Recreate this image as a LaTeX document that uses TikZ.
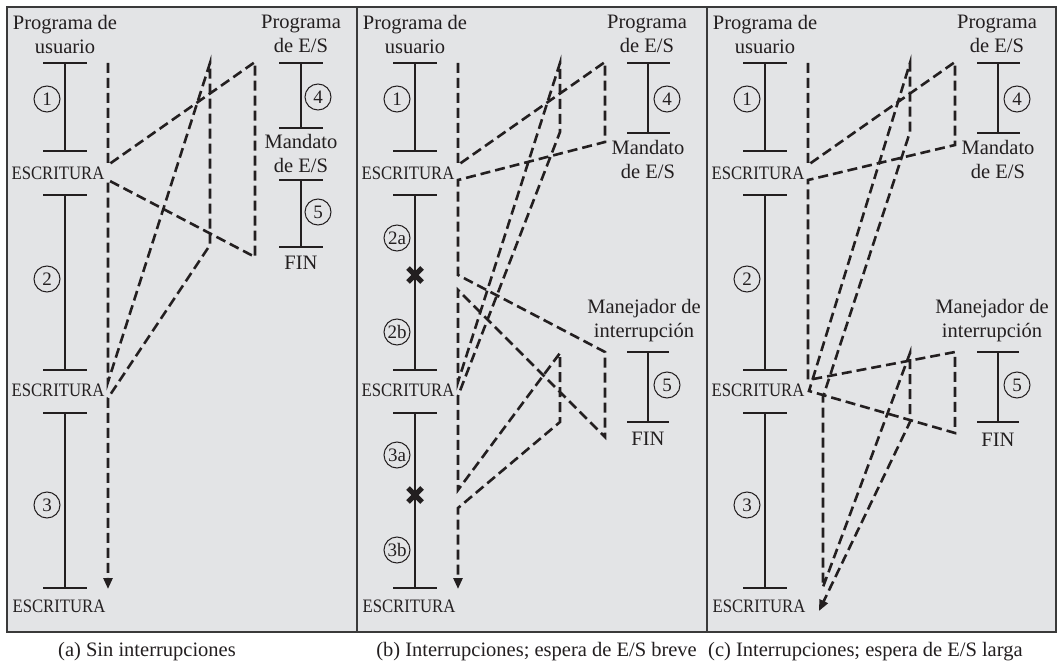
\documentclass[tikz,border=0pt]{standalone}
\usepackage{fontspec}
\setmainfont{Liberation Serif}
\usetikzlibrary{arrows.meta}
\definecolor{ink}{HTML}{231F20}
\definecolor{panelbg}{HTML}{E3E4E6}
\definecolor{frame}{HTML}{3A3A3A}
\tikzset{
  bar/.style={draw=ink, line width=2.9pt},
  flow/.style={draw=ink, line width=2.6pt, dash pattern=on 10pt off 5pt},
  flowarrow/.style={flow, -{Triangle[length=11pt,width=9pt]}},
  lbl/.style={font=\fontsize{20.5}{24}\selectfont, align=center, inner sep=0pt, text=ink},
  wr/.style={font=\fontsize{19}{22}\selectfont, inner sep=0pt, text=ink},
  num/.style={circle, draw=ink, line width=1pt, minimum size=26pt, inner sep=0pt, font=\fontsize{19}{19}\selectfont, text=ink},
  captext/.style={font=\fontsize{20.5}{24}\selectfont, inner sep=0pt, text=ink},
  xmark/.style={draw=ink, line width=5pt}
}
\newcommand{\userbars}{%
  \draw[bar] (43,63) -- (87,63) (65,63) -- (65,151) (43,151) -- (87,151);
  \draw[bar] (43,195) -- (87,195) (65,195) -- (65,370) (43,370) -- (87,370);
  \draw[bar] (43,413) -- (87,413) (65,413) -- (65,588) (43,588) -- (87,588);
  \node[lbl] (pu) at (65,34) {Programa de\\usuario};
  \node[wr] (w1) at (58,173) {\scalebox{0.88}[1]{ESCRITURA}};
  \node[wr] (w2) at (58,390) {\scalebox{0.88}[1]{ESCRITURA}};
  \node[wr] (w3) at (59,606) {\scalebox{0.88}[1]{ESCRITURA}};
  \node[num] (n1) at (47,99) {1};
}
\begin{document}
\begin{tikzpicture}[x=1pt,y=-1pt]
\useasboundingbox (0,0) rectangle (1058,666);
\fill[white] (0,0) rectangle (1058,666);
\fill[panelbg] (7,7) rectangle (1056,632);
\draw[frame, line width=1.4pt] (7,7) rectangle (1056,632);
\draw[frame, line width=1.4pt] (357,7) -- (357,632) (707,7) -- (707,632);

% ---------------- panel a ----------------
\begin{scope}
  \userbars
  \node[num] (n2) at (47,279) {2};
  \node[num] (n3) at (47,505) {3};
  \node[lbl] (pes) at (301,34) {Programa\\de E/S};
  \draw[bar] (279,63) -- (323,63) (301,63) -- (301,128) (279,128) -- (323,128);
  \node[num] (n4) at (318,97) {4};
  \node[lbl] (man) at (301,153) {Mandato\\de E/S};
  \draw[bar] (279,180) -- (323,180) (301,180) -- (301,247) (279,247) -- (323,247);
  \node[num] (n5) at (318,212) {5};
  \node[lbl] (fin) at (301,263) {FIN};
  \coordinate (a1) at (108,63);  \coordinate (a2) at (108,165);
  \coordinate (a3) at (255,62);  \coordinate (a4) at (255,257);
  \coordinate (a5) at (108,180); \coordinate (a6) at (108,382);
  \coordinate (a7) at (210,63);  \coordinate (a8) at (210,245);
  \coordinate (a9) at (108,398); \coordinate (a10) at (108,589);
  \draw[flowarrow] (a1) -- (a2) -- (a3) -- (a4) -- (a5) -- (a6) -- (a7) -- (a8) -- (a9) -- (a10);
  \node[captext] (capa) at (147,652) {(a) Sin interrupciones};
\end{scope}

% ---------------- panel b ----------------
\begin{scope}[xshift=350pt]
  \userbars
  \node[num] (n2a) at (47,238) {2a};
  \node[num] (n2b) at (47,332) {2b};
  \node[num] (n3a) at (47,455) {3a};
  \node[num] (n3b) at (47,550) {3b};
  \draw[xmark] (58,268) -- (72,282) (58,282) -- (72,268);
  \draw[xmark] (58,488) -- (72,502) (58,502) -- (72,488);
  \node[lbl] (pes) at (297,34) {Programa\\de E/S};
  \draw[bar] (277,63) -- (320,63) (298,63) -- (298,133) (277,133) -- (320,133);
  \node[num] (n4) at (317,99) {4};
  \node[lbl] (man) at (298,159) {Mandato\\de E/S};
  \node[lbl] (mi) at (294,321) {Manejador de\\interrupción};
  \draw[bar] (277,352) -- (319,352) (298,352) -- (298,422) (277,422) -- (319,422);
  \node[num] (n5) at (317,385) {5};
  \node[lbl] (fin) at (298,439) {FIN};
  \coordinate (b1) at (108,63);   \coordinate (b2) at (108,165);
  \coordinate (b3) at (255,62);   \coordinate (b4) at (255,142);
  \coordinate (b5) at (108,180);  \coordinate (b6) at (108,275);
  \coordinate (b7) at (255,352);  \coordinate (b8) at (255,437);
  \coordinate (b9) at (108,290);  \coordinate (b10) at (108,382);
  \coordinate (b11) at (210,63);  \coordinate (b12) at (210,132);
  \coordinate (b13) at (108,396); \coordinate (b14) at (108,490);
  \coordinate (b15) at (210,353); \coordinate (b16) at (210,422);
  \coordinate (b17) at (108,508); \coordinate (b18) at (108,589);
  \draw[flowarrow] (b1) -- (b2) -- (b3) -- (b4) -- (b5) -- (b6) -- (b7) -- (b8) -- (b9) -- (b10) -- (b11) -- (b12) -- (b13) -- (b14) -- (b15) -- (b16) -- (b17) -- (b18);
  \node[captext, anchor=east] (capb) at (347,652) {(b) Interrupciones; espera de E/S breve};
\end{scope}

% ---------------- panel c ----------------
\begin{scope}[xshift=700pt]
  \userbars
  \node[num] (n2) at (47,279) {2};
  \node[num] (n3) at (47,505) {3};
  \node[lbl] (pes) at (297,34) {Programa\\de E/S};
  \draw[bar] (277,63) -- (320,63) (298,63) -- (298,133) (277,133) -- (320,133);
  \node[num] (n4) at (317,99) {4};
  \node[lbl] (man) at (298,159) {Mandato\\de E/S};
  \node[lbl] (mi) at (292,321) {Manejador de\\interrupción};
  \draw[bar] (277,352) -- (319,352) (298,352) -- (298,422) (277,422) -- (319,422);
  \node[num] (n5) at (317,385) {5};
  \node[lbl] (fin) at (298,440) {FIN};
  \coordinate (c1) at (108,63);   \coordinate (c2) at (108,165);
  \coordinate (c3) at (255,62);   \coordinate (c4) at (255,145);
  \coordinate (c5) at (108,180);  \coordinate (c6) at (108,380);
  \coordinate (c7) at (255,352);  \coordinate (c8) at (255,433);
  \coordinate (c9) at (109,391);  \coordinate (c10) at (210,63);
  \coordinate (c11) at (210,132); \coordinate (c12) at (123,397);
  \coordinate (c13) at (123,587); \coordinate (c14) at (210,353);
  \coordinate (c15) at (210,422); \coordinate (c16) at (119,611);
  \draw[flowarrow] (c1) -- (c2) -- (c3) -- (c4) -- (c5) -- (c6) -- (c7) -- (c8) -- (c9) -- (c10) -- (c11) -- (c12) -- (c13) -- (c14) -- (c15) -- (c16);
  \node[captext, anchor=west] (capc) at (8,652) {(c) Interrupciones; espera de E/S larga};
\end{scope}
\end{tikzpicture}
\end{document}
